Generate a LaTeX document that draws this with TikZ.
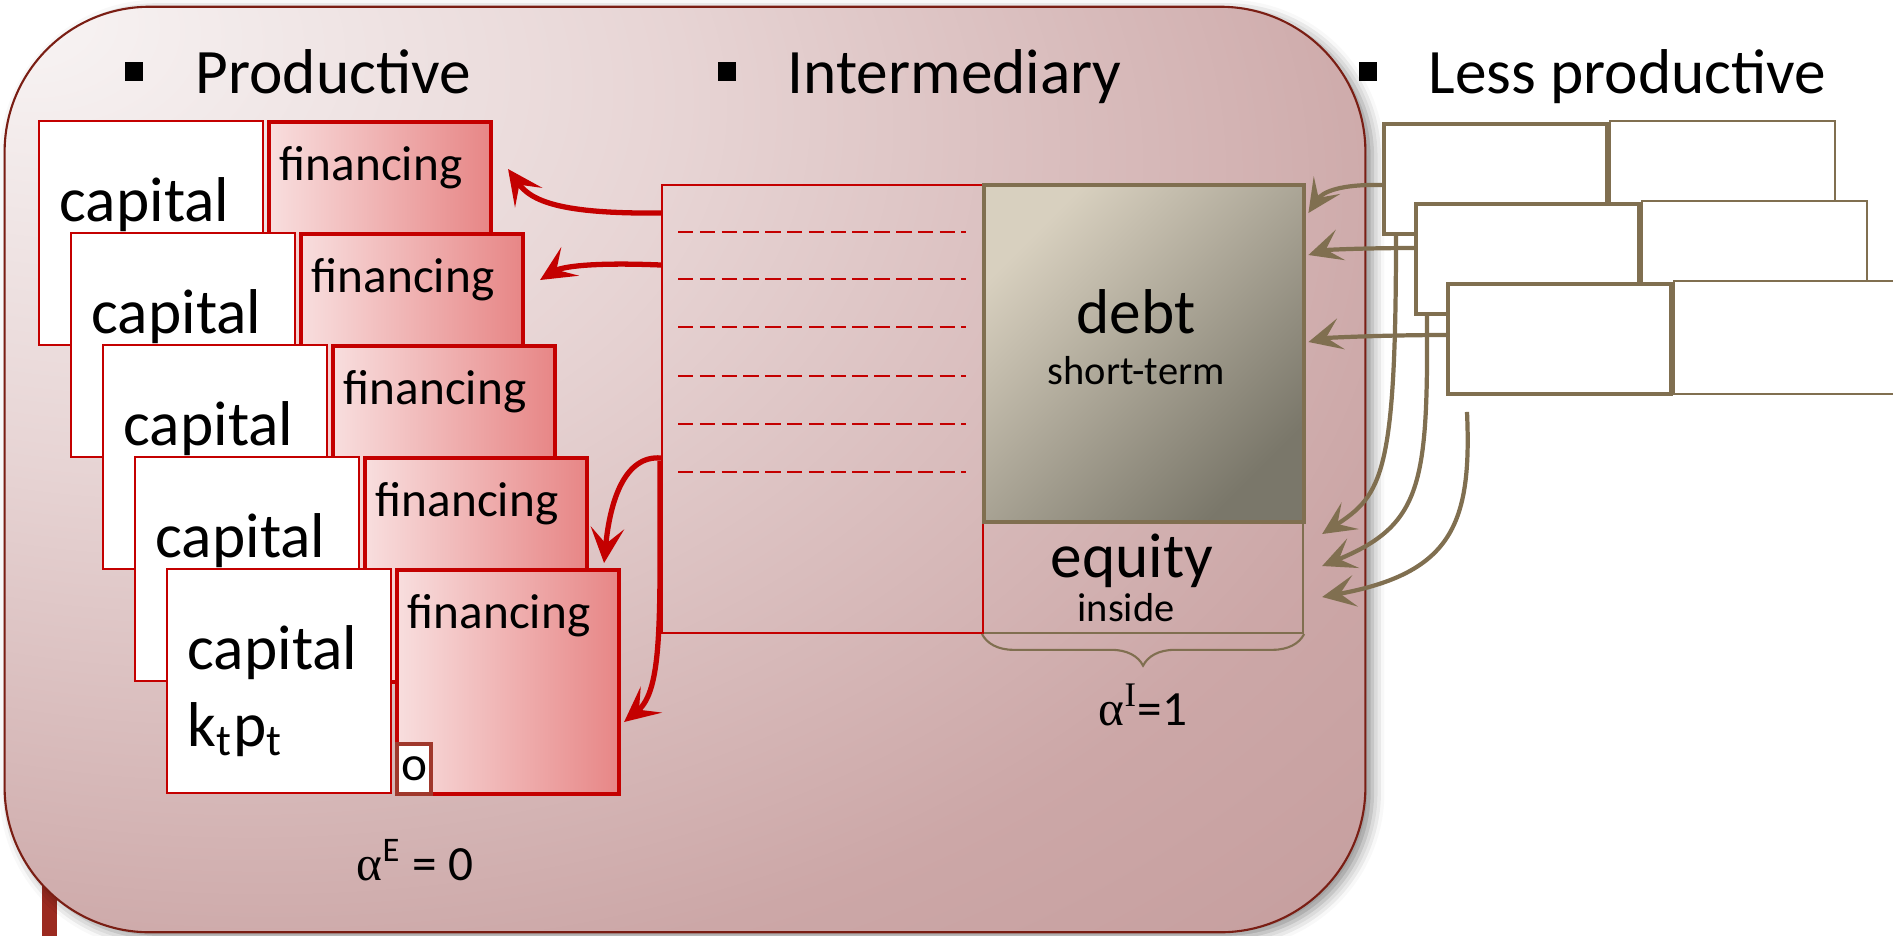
\documentclass[tikz,border=0pt]{standalone}
\usepackage{fontspec}
\setmainfont{Carlito}
\newfontfamily\greekserif{Liberation Serif}
\usetikzlibrary{calc}
\usetikzlibrary{positioning}
\usetikzlibrary{arrows.meta}
\usetikzlibrary{shadows.blur}
\usetikzlibrary{decorations.pathreplacing}
\definecolor{framered}{RGB}{122,30,20}
\definecolor{barred}{RGB}{155,42,32}
\definecolor{capred}{RGB}{196,0,0}
\definecolor{finL}{RGB}{248,222,222}
\definecolor{finR}{RGB}{231,134,134}
\definecolor{zerored}{RGB}{160,56,44}
\definecolor{lessolive}{RGB}{128,111,80}
\definecolor{debtA}{RGB}{216,208,191}
\definecolor{debtB}{RGB}{122,119,106}
\definecolor{glowA}{RGB}{248,245,245}
\definecolor{glowB}{RGB}{231,212,212}
\definecolor{glowC}{RGB}{204,167,167}
\definecolor{glowD}{RGB}{196,156,156}
\pgfdeclareradialshading{frameglow}{\pgfpoint{-25bp}{25bp}}{color(0bp)=(glowA); color(20bp)=(glowB); color(42bp)=(glowC); color(55bp)=(glowD); color(100bp)=(glowD)}
\tikzset{x=0.01cm, y=-0.01cm}
\tikzstyle{sectorframe} = [draw=framered, line width=0.6pt, shade, shading=frameglow, rounded corners=1.45cm, minimum width=13.6cm, minimum height=9.25cm, inner sep=0, blur shadow={shadow xshift=0.07cm, shadow yshift=-0.05cm, shadow blur radius=0.12cm, shadow opacity=45}]
\tikzstyle{bullet} = [fill=black, inner sep=0, minimum width=0.18cm, minimum height=0.19cm]
\tikzstyle{headtext} = [inner sep=0, anchor=base west, font=\fontsize{18}{21}\selectfont]
\tikzstyle{capbox} = [draw=capred, line width=0.55pt, fill=white, inner sep=0, anchor=north west, minimum width=2.24cm, minimum height=2.24cm]
\tikzstyle{finbox} = [draw=capred, line width=1.1pt, left color=finL, right color=finR, inner sep=0, anchor=north west, minimum width=2.22cm, minimum height=2.24cm]
\tikzstyle{bigtext} = [inner sep=0, font=\fontsize{18}{21}\selectfont]
\tikzstyle{fintext} = [inner sep=0, anchor=base west, font=\fontsize{14}{16}\selectfont]
\tikzstyle{zerobox} = [draw=zerored, line width=1.1pt, fill=white, inner sep=0, anchor=south west, minimum width=0.34cm, minimum height=0.5cm, font=\fontsize{14}{16}\selectfont]
\tikzstyle{finarrow} = [draw=capred, line width=1.5pt, -{Stealth[length=10pt, width=9.5pt, inset=4.5pt]}]
\tikzstyle{interbox} = [draw=capred, line width=0.55pt, inner sep=0, anchor=north west, minimum width=3.21cm, minimum height=4.48cm]
\tikzstyle{ledger} = [draw=capred, line width=0.6pt, dash pattern=on 4.4pt off 1.8pt]
\tikzstyle{debtbox} = [draw=lessolive, line width=1.2pt, top color=debtA, bottom color=debtB, shading angle=45, inner sep=0, anchor=north west, minimum width=3.2cm, minimum height=3.37cm]
\tikzstyle{eqbox} = [draw=lessolive, line width=0.55pt, inner sep=0, anchor=north west, minimum width=3.2cm, minimum height=1.12cm]
\tikzstyle{smalltext} = [inner sep=0, anchor=base, font=\fontsize{11.5}{13}\selectfont]
\tikzstyle{eqbrace} = [draw=lessolive, line width=0.6pt, decorate, decoration={brace, amplitude=9pt}]
\tikzstyle{alphatext} = [inner sep=0, anchor=base, font=\fontsize{14}{16}\selectfont]
\tikzstyle{lessbox} = [draw=lessolive, line width=1.1pt, fill=white, inner sep=0, anchor=north west, minimum width=2.23cm, minimum height=1.1cm]
\tikzstyle{lessside} = [draw=lessolive, line width=0.6pt, fill=white, inner sep=0, anchor=north west, minimum width=2.25cm, minimum height=1.13cm]
\tikzstyle{loanarrow} = [draw=lessolive, line width=1.2pt, -{Stealth[length=9.5pt, width=9pt, inset=4.3pt]}]

\begin{document}
\begin{tikzpicture}
\useasboundingbox (0,0) rectangle (1893,935);
\fill[barred] (42,885) rectangle (57,940);
\node[sectorframe] (sector) at (685,469.5) {};

% headings
\node[bullet] (prodb) at (134,71) {};
\node[headtext] (prod) at ($(prodb)+(61,22)$) {Productive};
\node[bullet] (interb) at (727,71) {};
\node[headtext] (intert) at ($(interb)+(60,22)$) {Intermediary};
\node[bullet] (lessb) at (1368,71) {};
\node[headtext] (lesst) at ($(lessb)+(60,22)$) {Less productive};

% productive firms
\node[capbox] (cap1) at (38,120) {};
\node[finbox] (fin1) at ($(cap1.north east)+(3,0)$) {};
\node[bigtext, anchor=base west] (cap1t) at ($(cap1.north west)+(21,101)$) {capital};
\node[fintext] (fin1t) at ($(fin1.north west)+(12,60)$) {financing};
\node[capbox] (cap2) at ($(cap1.north west)+(32,112)$) {};
\node[finbox] (fin2) at ($(cap2.north east)+(3,0)$) {};
\node[bigtext, anchor=base west] (cap2t) at ($(cap2.north west)+(21,101)$) {capital};
\node[fintext] (fin2t) at ($(fin2.north west)+(12,60)$) {financing};
\node[capbox] (cap3) at ($(cap2.north west)+(32,112)$) {};
\node[finbox] (fin3) at ($(cap3.north east)+(3,0)$) {};
\node[bigtext, anchor=base west] (cap3t) at ($(cap3.north west)+(21,101)$) {capital};
\node[fintext] (fin3t) at ($(fin3.north west)+(12,60)$) {financing};
\node[capbox] (cap4) at ($(cap3.north west)+(32,112)$) {};
\node[finbox] (fin4) at ($(cap4.north east)+(3,0)$) {};
\node[bigtext, anchor=base west] (cap4t) at ($(cap4.north west)+(21,101)$) {capital};
\node[fintext] (fin4t) at ($(fin4.north west)+(12,60)$) {financing};
\node[capbox] (cap5) at ($(cap4.north west)+(32,112)$) {};
\node[finbox] (fin5) at ($(cap5.north east)+(3,0)$) {};
\node[bigtext, anchor=base west] (cap5t) at ($(cap5.north west)+(21,101)$) {capital};
\node[bigtext, anchor=base west] (cap5k) at ($(cap5.north west)+(21,178)$) {k\textsubscript{t}p\textsubscript{t}};
\node[fintext] (fin5t) at ($(fin5.north west)+(12,60)$) {financing};
\node[zerobox] (zero) at (fin5.south west) {o};
\node[alphatext] (alphaE) at (415,880) {{\greekserif α}\textsuperscript{E} = 0};

% intermediary balance sheet
\node[eqbox] (equity) at (982,520) {};
\node[interbox] (inter) at (661,184) {};
\draw[ledger] ($(inter.north west)+(17,48)$) -- ++(288,0);
\draw[ledger] ($(inter.north west)+(17,95)$) -- ++(288,0);
\draw[ledger] ($(inter.north west)+(17,143)$) -- ++(288,0);
\draw[ledger] ($(inter.north west)+(17,192)$) -- ++(288,0);
\draw[ledger] ($(inter.north west)+(17,240)$) -- ++(288,0);
\draw[ledger] ($(inter.north west)+(17,288)$) -- ++(288,0);
\node[debtbox] (debt) at (982,183) {};
\node[bigtext, anchor=base] (debtt) at ($(debt.north)+(-8,150)$) {debt};
\node[smalltext] (debts) at ($(debt.north)+(-8,201)$) {short-term};
\node[bigtext, anchor=base] (equityt) at ($(equity.north)+(-11,57)$) {equity};
\node[smalltext] (equitys) at ($(equity.north)+(-17,101)$) {inside};
\draw[eqbrace] (equity.south east) -- (equity.south west);
\node[alphatext] (alphaI) at ($(equity.south)+(0,91)$) {{\greekserif α\textsuperscript{I}}=1};

% lending to productive firms
\draw[finarrow] ($(inter.north west)+(0,29)$) .. controls ($(inter.north west)+(-101,30)$) and ($(fin1.north east)+(38,81)$) .. ($(fin1.north east)+(15,49)$);
\draw[finarrow] ($(inter.north west)+(0,81)$) .. controls ($(inter.north west)+(-71,78)$) and ($(fin2.north east)+(36,35)$) .. ($(fin2.north east)+(15,48)$);
\draw[finarrow] ($(inter.north west)+(0,274)$) .. controls ($(inter.north west)+(-36,271)$) and ($(fin5.north east)+(-11,-68)$) .. ($(fin5.north east)+(-17,-5)$);
\draw[finarrow] ($(inter.north west)+(-1,277)$) .. controls ($(inter.north west)+(-1,436)$) and ($(fin5.north east)+(42,122)$) .. ($(fin5.north east)+(3,154)$);

% less productive firms
\node[lessbox] (less1) at (1382,122) {};
\node[lessside] (side1) at ($(less1.north east)+(0,-2)$) {};
\node[lessbox] (less2) at ($(less1.north west)+(32,80)$) {};
\node[lessside] (side2) at ($(less2.north east)+(0,-2)$) {};
\node[lessbox] (less3) at ($(less2.north west)+(32,80)$) {};
\node[lessside] (side3) at ($(less3.north east)+(0,-2)$) {};

% funding of the intermediary
\draw[loanarrow] ($(less1.north west)+(0,63)$) .. controls ($(less1.north west)+(-42,62)$) and ($(debt.north east)+(16,9)$) .. ($(debt.north east)+(2,30)$);
\draw[loanarrow] ($(less2.north west)+(0,46)$) .. controls ($(less2.north west)+(-54,46)$) and ($(debt.north east)+(18,67)$) .. ($(debt.north east)+(2,72)$);
\draw[loanarrow] ($(less3.north west)+(0,53)$) .. controls ($(less3.north west)+(-66,53)$) and ($(debt.north east)+(18,155)$) .. ($(debt.north east)+(2,159)$);
\draw[loanarrow] ($(less1.south west)+(14,0)$) .. controls ($(less1.south west)+(14,238)$) and ($(equity.north east)+(78,-25)$) .. ($(equity.north east)+(18,14)$);
\draw[loanarrow] ($(less2.south west)+(13,0)$) .. controls ($(less2.south west)+(14,168)$) and ($(equity.north east)+(118,5)$) .. ($(equity.north east)+(18,46)$);
\draw[loanarrow] ($(less3.south west)+(21,16)$) .. controls ($(less3.south west)+(26,128)$) and ($(equity.north east)+(148,53)$) .. ($(equity.north east)+(18,77)$);
\end{tikzpicture}
\end{document}
